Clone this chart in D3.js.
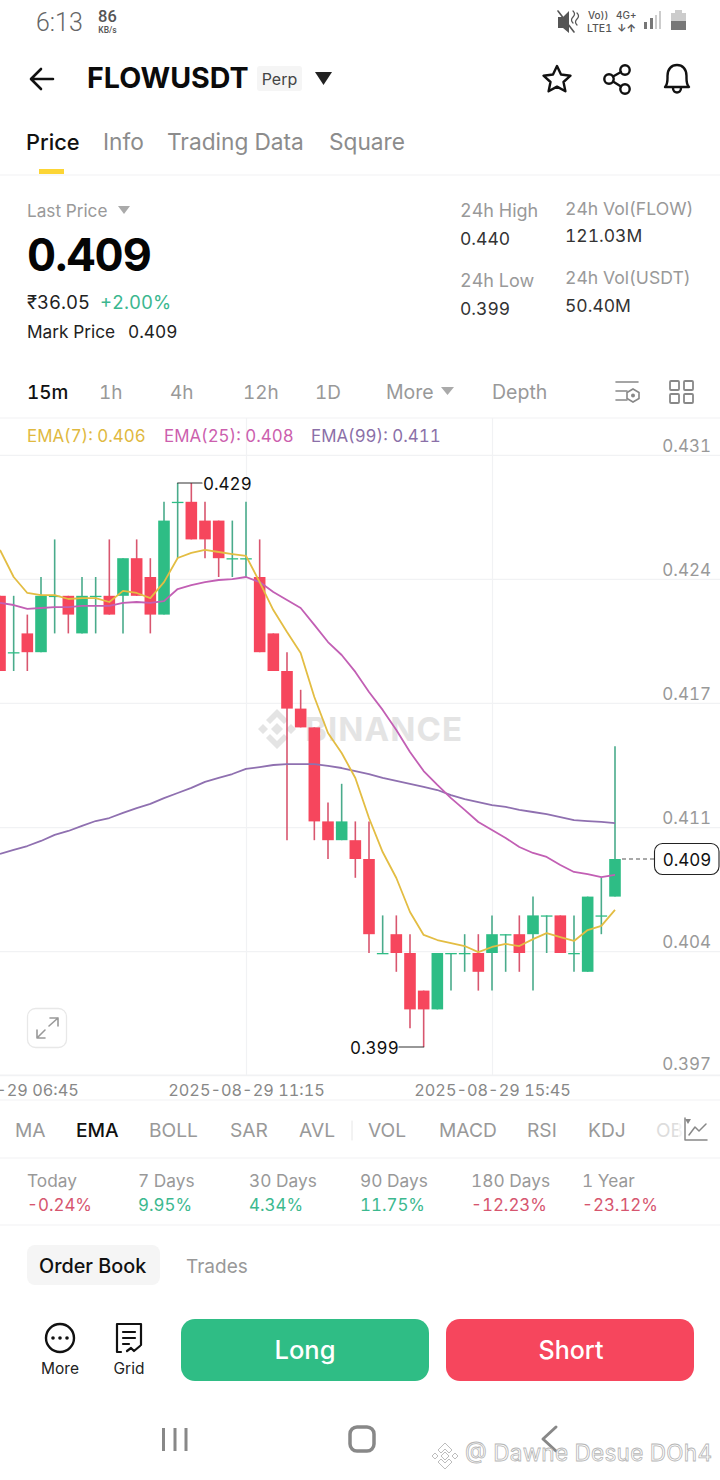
<html>
<head>
    <title>FLOWUSDT Perp</title>
    <script src="https://cdn.jsdelivr.net/npm/d3@7"></script>
    <style>
        body { margin: 0; background: #fff; }
        svg { display: block; }
        text { font-family: Inter, "Noto Sans", sans-serif; font-variant-numeric: tabular-nums; }
    </style>
</head>

<body>
    <div id="chart"></div>
    <script>
        // candles, 15m each, first one is 2025-08-29 06:45
        const firstCandle = Date.UTC(2025, 7, 29, 6, 45);
        const opens  = [.423,.420,.421,.420,.423,.423,.421,.423,.423,.423,.425,.424,.422,.428,.428,.427,.427,.425,.425,.424,.421,.419,.417,.416,.411,.410,.410,.409,.404,.405,.404,.402,.401,.404,.404,.404,.404,.405,.405,.405,.406,.406,.404,.403,.406,.407];
        const closes = [.419,.420,.420,.423,.423,.422,.423,.423,.422,.425,.423,.422,.427,.428,.426,.426,.425,.425,.425,.420,.419,.417,.416,.411,.410,.411,.409,.405,.404,.404,.401,.401,.404,.404,.404,.403,.405,.405,.404,.406,.406,.404,.404,.407,.406,.409];
        const highs  = [.423,.423,.422,.424,.426,.423,.424,.424,.426,.425,.426,.425,.428,.429,.429,.428,.427,.427,.428,.426,.421,.420,.418,.416,.412,.413,.411,.411,.406,.406,.405,.402,.404,.404,.405,.405,.406,.405,.406,.407,.406,.406,.406,.407,.408,.415];
        const lows   = [.419,.419,.419,.420,.421,.421,.421,.421,.422,.421,.423,.421,.422,.425,.426,.425,.424,.424,.424,.420,.419,.410,.416,.410,.409,.410,.408,.404,.404,.403,.400,.399,.401,.402,.403,.402,.402,.403,.403,.402,.404,.404,.403,.403,.405,.407];

        const ema7  = [.42544,.42400,.42315,.42304,.42304,.42283,.42288,.42288,.42267,.42326,.42315,.42288,.42373,.42501,.42528,.42544,.42533,.42522,.42512,.42373,.42224,.42107,.41996,.41762,.41570,.41464,.41331,.41118,.40937,.40799,.40618,.40496,.40469,.40453,.40437,.40405,.40432,.40448,.40437,.40474,.40506,.40485,.40464,.40522,.40544,.40629];
        const ema25 = [.42262,.42251,.42230,.42235,.42240,.42240,.42246,.42246,.42246,.42262,.42267,.42262,.42272,.42336,.42357,.42373,.42384,.42389,.42400,.42373,.42320,.42278,.42235,.42145,.42054,.41985,.41895,.41788,.41693,.41586,.41469,.41368,.41294,.41224,.41161,.41097,.41054,.41012,.40964,.40932,.40911,.40868,.40831,.40820,.40804,.40815];
        const ema99 = [.40927,.40948,.40969,.40996,.41028,.41049,.41076,.41102,.41118,.41145,.41171,.41193,.41224,.41251,.41278,.41310,.41331,.41352,.41379,.41389,.41400,.41405,.41405,.41405,.41395,.41384,.41368,.41352,.41331,.41315,.41299,.41283,.41267,.41240,.41219,.41203,.41187,.41177,.41161,.41150,.41139,.41123,.41107,.41102,.41097,.41091];

        const priceTicks  = [.4305,.4239,.4173,.4107,.4041,.3975];
        const priceLabels = ["0.431","0.424","0.417","0.411","0.404","0.397"];
        const timeTicks   = [Date.UTC(2025,7,29,6,45), Date.UTC(2025,7,29,11,15), Date.UTC(2025,7,29,15,45)];

        const intervals  = ["15m","1h","4h","12h","1D","More","Depth"];
        const intervalX  = [27,99,170,243,315,386,492];
        const indicators = ["MA","EMA","BOLL","SAR","AVL","VOL","MACD","RSI","KDJ"];
        const indicatorX = [15,76,149,230,299,368,439,527,588];
        const periods    = ["Today","7 Days","30 Days","90 Days","180 Days","1 Year"];
        const periodVals = ["-0.24%","9.95%","4.34%","11.75%","-12.23%","-23.12%"];
        const periodX    = [27,138,249,360,471,582];

        const GREEN = "#2ebd85", RED = "#f6465d", GRID = "#f1f2f4", GREY = "#999";
        const candleMs = 15 * 60 * 1000;
        const times = opens.map((d, i) => firstCandle + i * candleMs);

        const svg = d3.select("#chart").append("svg").attr("width", 720).attr("height", 1480);

        const x = d3.scaleUtc().domain([firstCandle, timeTicks[2]]).range([0, 492]);
        const y = d3.scaleLinear().domain([.429, .399]).range([483, 1047]);

        function label(txt, px, py, size, fill, weight, anchor) {
            return svg.append("text").attr("x", px).attr("y", py).attr("font-size", size)
                .attr("fill", fill).attr("font-weight", weight || 400)
                .attr("text-anchor", anchor || "start").text(txt);
        }
        function hline(py, color) {
            svg.append("line").attr("x1", 0).attr("x2", 720).attr("y1", py).attr("y2", py)
                .attr("stroke", color || GRID).attr("stroke-width", 1.2);
        }
        function tri(cx, cy, w, h, fill) {
            svg.append("path").attr("fill", fill)
                .attr("d", `M${cx - w / 2},${cy}h${w}l${-w / 2},${h}z`);
        }
        function icon(d, sw, color) {
            return svg.append("path").attr("d", d).attr("fill", "none")
                .attr("stroke", color || "#111").attr("stroke-width", sw)
                .attr("stroke-linecap", "round").attr("stroke-linejoin", "round");
        }

        // status bar
        label("6:13", 36, 31, 25, "#666").style("font-family", "Roboto").attr("font-weight", 300);
        label("86", 107.5, 22, 16.5, "#555", 500, "middle").style("font-family", "Roboto");
        label("KB/s", 107.5, 33, 8.5, "#555", 500, "middle").style("font-family", "Roboto");
        svg.append("path").attr("fill", "#555").attr("d", "M558,17h5l6,-6v22l-6,-5h-5z");
        icon("M558,11L574,32", 1.6, "#555");
        icon("M573,11q3,3 0,6q-3,3 0,6 M577,13q3,3 0,6q-3,3 0,6", 1.2, "#555");
        label("Vo))", 588, 19, 10, "#555", 500);
        label("LTE1", 587, 31.5, 10.5, "#555", 500);
        label("4G+", 616, 19, 10, "#555", 500);
        label("↓↑", 617, 32, 10.5, "#555", 700);
        [[644,3,7],[650,3,11],[655,2,14],[659,2,18]].forEach((b, i) => {
            svg.append("rect").attr("x", b[0]).attr("y", 29 - b[2]).attr("width", b[1]).attr("height", b[2])
                .attr("fill", i < 2 ? "#777" : "#ccc");
        });
        svg.append("rect").attr("x", 671).attr("y", 13).attr("width", 15).attr("height", 17).attr("fill", "#ccc");
        svg.append("rect").attr("x", 671).attr("y", 21).attr("width", 15).attr("height", 9).attr("fill", "#777");
        svg.append("rect").attr("x", 675).attr("y", 10).attr("width", 7).attr("height", 3).attr("fill", "#ccc");

        // header
        icon("M53,79H32 M41,69L31,79L41,89", 2.6);
        label("FLOWUSDT", 87, 88, 28.6, "#0b0b0b", 700);
        svg.append("rect").attr("x", 257).attr("y", 66).attr("width", 45).attr("height", 25).attr("rx", 3).attr("fill", "#f5f5f5");
        label("Perp", 279.5, 85, 16, "#444", 400, "middle");
        tri(323.5, 72, 17, 13, "#222");
        icon("M557,66l4,8.5l9.5,1.2l-7,6.3l1.9,9.3l-8.4,-4.7l-8.4,4.7l1.9,-9.3l-7,-6.3l9.5,-1.2z", 2.4);
        svg.append("g").selectAll("circle").data([[625,70],[609,79],[625,89]]).join("circle")
            .attr("cx", d => d[0]).attr("cy", d => d[1]).attr("r", 4.7)
            .attr("fill", "none").attr("stroke", "#111").attr("stroke-width", 2.4);
        icon("M613,76.5L621,72 M613,81.5L621,86.5", 2.4);
        icon("M665,87c3,-3 2.5,-7 2.5,-11c0,-7 4,-11 9.5,-11s9.5,4 9.5,11c0,4 -.5,8 2.5,11z M673,88c0,6 8,6 8,0", 2.4);

        // tabs
        label("Price", 26, 150, 21.8, "#111", 500);
        label("Info", 103, 150, 22.7, "#8c8c8c");
        label("Trading Data", 167, 150, 22.7, "#8c8c8c");
        label("Square", 329, 150, 22.7, "#8c8c8c");
        svg.append("rect").attr("x", 39).attr("y", 169).attr("width", 25).attr("height", 5).attr("fill", "#fcd535");
        hline(175);

        // price summary
        label("Last Price", 27, 217, 17.2, GREY);
        tri(124, 206, 12, 8, "#aaa");
        label("0.409", 27, 271, 45, "#050505", 700).attr("letter-spacing", -0.9);
        label("₹36.05", 27, 309, 18.5, "#222");
        label("+2.00%", 100, 309, 18.5, "#3bb78f");
        label("Mark Price", 27, 338, 17.3, "#222");
        label("0.409", 128, 338, 17.3, "#222");
        label("24h High", 460, 217, 18, GREY);
        label("0.440", 460, 245, 17.5, "#333");
        label("24h Low", 460, 287, 18, GREY);
        label("0.399", 460, 315, 17.5, "#333");
        label("24h Vol(FLOW)", 565, 215, 17.6, GREY);
        label("121.03M", 565, 242, 17.5, "#333");
        label("24h Vol(USDT)", 565, 284, 17.6, GREY);
        label("50.40M", 565, 312, 17.5, "#333");

        // interval row
        intervals.forEach((t, i) => label(t, intervalX[i], 399, i < 5 ? 18.9 : 19.5, i == 0 ? "#111" : GREY, i == 0 ? 500 : 400));
        tri(447.5, 387, 13, 8, "#aaa");
        icon("M616,382H638 M616,391H627 M616,400H627", 1.6, "#888");
        svg.append("path").attr("d", "M633,389l6,3.5v6l-6,3.5l-6,-3.5v-6z").attr("fill", "none").attr("stroke", "#888").attr("stroke-width", 1.6);
        svg.append("circle").attr("cx", 633).attr("cy", 395.5).attr("r", 2).attr("fill", "#888");
        [[670,381],[684,381],[670,394],[684,394]].forEach(p => {
            svg.append("rect").attr("x", p[0]).attr("y", p[1]).attr("width", 9).attr("height", 9).attr("rx", 1)
                .attr("fill", "none").attr("stroke", "#888").attr("stroke-width", 1.8);
        });

        hline(418);

        // grid
        svg.append("g").attr("class", "grid-v").attr("transform", "translate(0,418)")
            .call(d3.axisBottom(x).tickValues(timeTicks.slice(1)).tickSize(657).tickFormat(""))
            .call(g => g.select(".domain").remove())
            .call(g => g.selectAll("line").attr("stroke", GRID).attr("stroke-width", 1.2));
        svg.append("g").attr("class", "grid-h")
            .call(d3.axisRight(y).tickValues(priceTicks).tickSize(720).tickFormat(""))
            .call(g => g.select(".domain").remove())
            .call(g => g.selectAll("line").attr("stroke", GRID).attr("stroke-width", 1.2));

        // watermark
        const logo = svg.append("g").attr("transform", "translate(277,729)").attr("fill", "#e4e4e4");
        logo.append("path").attr("d", "M0,-20L11,-9L7,-5L0,-12L-7,-5L-11,-9z M0,20L11,9L7,5L0,12L-7,5L-11,9z M-19,0l5,-5l5,5l-5,5z M19,0l-5,-5l-5,5l5,5z M0,-6l6,6l-6,6l-6,-6z");
        label("BINANCE", 305, 741, 33, "#e4e4e4", 700).attr("textLength", 157);

        // candles
        const candles = svg.append("g").selectAll("g").data(times).join("g");
        const colorOf = i => closes[i] >= opens[i] ? GREEN : RED;
        candles.append("line")
            .attr("x1", d => x(d)).attr("x2", d => x(d))
            .attr("y1", (d, i) => y(highs[i])).attr("y2", (d, i) => y(lows[i]))
            .attr("stroke", (d, i) => closes[i] >= opens[i] ? "#4aab8b" : "#d8566f").attr("stroke-width", 1.6);
        candles.append("rect")
            .attr("x", d => x(d) - 5.8).attr("width", 11.6)
            .attr("y", (d, i) => y(Math.max(opens[i], closes[i])))
            .attr("height", (d, i) => Math.max(1.3, Math.abs(y(opens[i]) - y(closes[i]))))
            .attr("fill", (d, i) => colorOf(i));

        // ema lines
        const lineGen = vals => d3.line().x((d, i) => x(times[i])).y(d => y(d))(vals);
        [[ema99, "#8f70b0"], [ema25, "#c25fb4"], [ema7, "#e3bd43"]].forEach(s => {
            svg.append("path").attr("d", lineGen(s[0])).attr("fill", "none")
                .attr("stroke", s[1]).attr("stroke-width", 1.8).attr("stroke-linejoin", "round");
        });

        // legend
        label("EMA(7): 0.406", 27, 441.5, 16.9, "#e0b93f");
        label("EMA(25): 0.408", 164, 441.5, 16.9, "#cc5fae");
        label("EMA(99): 0.411", 311, 441.5, 16.9, "#8b70a8");

        // price axis
        svg.append("g").attr("transform", "translate(711,0)")
            .call(d3.axisLeft(y).tickValues(priceTicks).tickSize(0).tickPadding(0)
                .tickFormat((d, i) => priceLabels[i]))
            .call(g => g.select(".domain").remove())
            .call(g => g.selectAll("text").attr("font-size", 17).attr("fill", "#999")
                .style("font-family", "Inter").attr("dy", (d, i) => i == 5 ? -5.5 : -3.5));

        // time axis
        svg.append("g").attr("transform", "translate(0,1075)")
            .call(d3.axisBottom(x).tickValues(timeTicks).tickSize(0).tickPadding(9.5)
                .tickFormat(d3.utcFormat("%Y-%m-%d %H:%M")))
            .call(g => g.select(".domain").remove())
            .call(g => g.selectAll("text").attr("font-size", 16.3).attr("fill", "#888").style("font-family", "Inter"));
        hline(1075);
        hline(1100);

        // high / low labels
        icon(`M${x(times[13])},${y(.429)}H202`, 1.2, "#333");
        label("0.429", 203, y(.429) + 7, 17, "#111");
        icon(`M${x(times[31])},${y(.399)}H399`, 1.2, "#333");
        label("0.399", 350, y(.399) + 7, 17, "#111");

        // current price
        svg.append("line").attr("x1", 622).attr("x2", 654).attr("y1", y(.409)).attr("y2", y(.409))
            .attr("stroke", "#555").attr("stroke-width", 1.2).attr("stroke-dasharray", "4 3");
        svg.append("rect").attr("x", 654.5).attr("y", 843.5).attr("width", 64.5).attr("height", 31).attr("rx", 8)
            .attr("fill", "#fff").attr("stroke", "#222").attr("stroke-width", 1.1);
        label("0.409", 687, 865.5, 17, "#111", 400, "middle");

        // expand button
        svg.append("rect").attr("x", 27.5).attr("y", 1008.5).attr("width", 39).attr("height", 39).attr("rx", 8)
            .attr("fill", "#fff").attr("stroke", "#e8e8e8").attr("stroke-width", 1.3);
        icon("M37,1038L45,1030 M49,1026L58,1018 M50,1018H58V1026 M37,1030V1038H45", 1.6, "#999");

        // indicators
        indicators.forEach((t, i) => label(t, indicatorX[i], 1137, 19.2, i == 1 ? "#111" : GREY, i == 1 ? 500 : 400));
        label("OB", 656, 1137, 19, "#ddd");
        icon("M352,1121V1140", 1, "#e6e6e6");
        svg.append("rect").attr("x", 678).attr("y", 1116).attr("width", 42).attr("height", 28).attr("fill", "#fff").attr("fill-opacity", .6);
        icon("M685,1118V1140H707 M689,1135L695,1127L699,1131L706,1124", 1.5, "#888");
        tri(688, 1119, 6, 5, "#888");
        hline(1158);

        // period performance
        periods.forEach((t, i) => {
            label(t, periodX[i], 1187, 17.3, GREY);
            label(periodVals[i], periodX[i], 1211, 16.9, periodVals[i][0] == "-" ? "#d6566f" : "#3cb98f");
        });
        hline(1225);

        // order book tabs
        svg.append("rect").attr("x", 27).attr("y", 1245).attr("width", 133).attr("height", 40).attr("rx", 8).attr("fill", "#f5f5f5");
        label("Order Book", 39, 1273, 19.8, "#111", 500);
        label("Trades", 186, 1273, 19, GREY);

        // bottom actions
        svg.append("circle").attr("cx", 60).attr("cy", 1338).attr("r", 14).attr("fill", "none").attr("stroke", "#111").attr("stroke-width", 2.4);
        svg.append("g").selectAll("circle").data([53, 60, 67]).join("circle")
            .attr("cx", d => d).attr("cy", 1338).attr("r", 1.8).attr("fill", "#111");
        label("More", 60, 1374, 15.5, "#222", 400, "middle");
        icon("M121,1352H117V1324H141V1345 M123,1332H135 M123,1338H135 M123,1344H129 M127,1351l4,-3l3,3l6,-5", 2.2);
        label("Grid", 129, 1374, 15.5, "#222", 400, "middle");
        svg.append("rect").attr("x", 181).attr("y", 1319).attr("width", 248).attr("height", 62).attr("rx", 14).attr("fill", "#2fbd85");
        label("Long", 305, 1359, 25.5, "#fff", 500, "middle");
        svg.append("rect").attr("x", 446).attr("y", 1319).attr("width", 248).attr("height", 62).attr("rx", 14).attr("fill", "#f6465d");
        label("Short", 571, 1359, 25, "#fff", 500, "middle");

        // nav bar
        icon("M163.5,1428V1451 M175,1428V1451 M186,1428V1451", 3, "#888").attr("stroke-linecap", "butt");
        svg.append("rect").attr("x", 350).attr("y", 1427).attr("width", 24).attr("height", 24).attr("rx", 7)
            .attr("fill", "none").attr("stroke", "#888").attr("stroke-width", 3.5);
        icon("M556,1427L543,1439L556,1451", 3, "#888");

        // repost watermark
        label("@ Dawne Desue DOh4", 465, 1461, 22.5, "#fff").attr("stroke", "#b5b5b5").attr("stroke-width", .8).attr("textLength", 247);
        const wm = svg.append("g").attr("transform", "translate(445,1456)").attr("fill", "#fff").attr("stroke", "#b5b5b5").attr("stroke-width", .9);
        wm.append("path").attr("d", "M0,-13L7,-6L4,-3L0,-7L-4,-3L-7,-6z M0,13L7,6L4,3L0,7L-4,3L-7,6z M-13,0l3,-3l3,3l-3,3z M13,0l-3,-3l-3,3l3,3z M0,-4l4,4l-4,4l-4,-4z");
    </script>
</body>
</html>
